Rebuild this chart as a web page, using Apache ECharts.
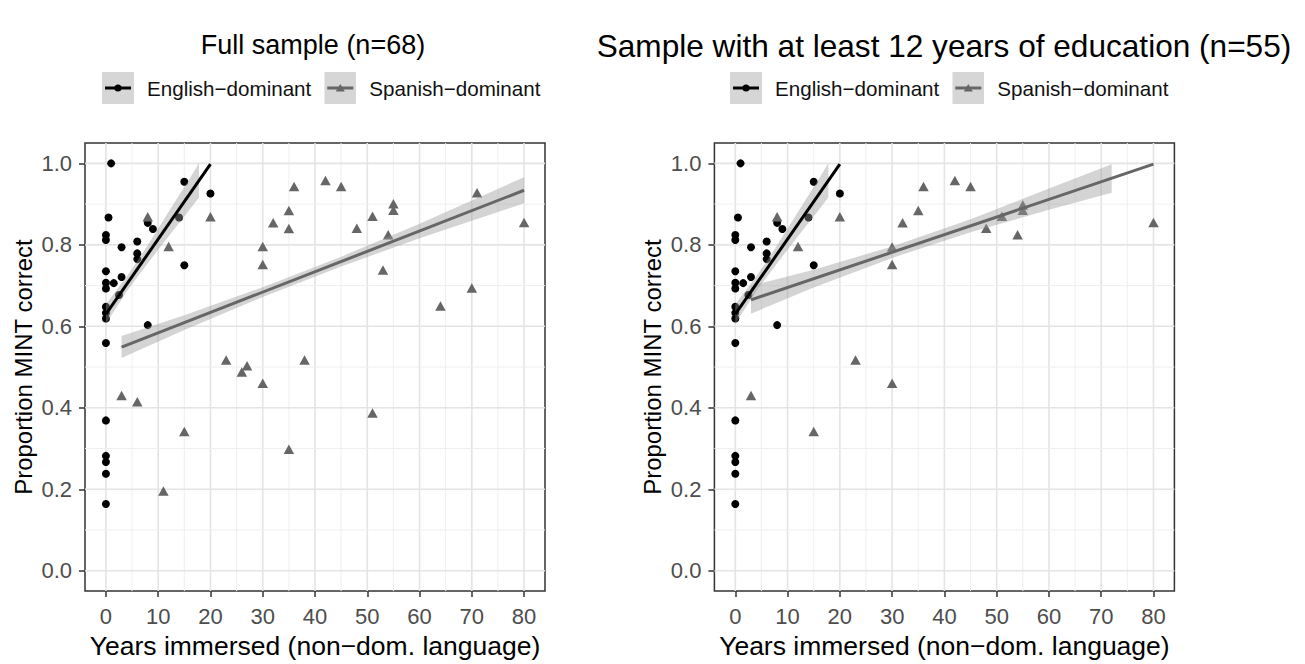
<!DOCTYPE html>
<html>
<head>
<meta charset="utf-8">
<script src="https://cdn.jsdelivr.net/npm/echarts@6/dist/echarts.min.js"></script>
<style>html,body{margin:0;padding:0;background:#fff}#c{width:1305px;height:664px}</style>
</head>
<body>
<div id="c"></div>
<script>
// ---------- data ----------
var titles = ['Full sample (n=68)', 'Sample with at least 12 years of education (n=55)'];
var groups = ['English\u2212dominant', 'Spanish\u2212dominant'];
var xTitle = 'Years immersed (non\u2212dom. language)';
var yTitle = 'Proportion MINT correct';
var xBreaks = [0, 10, 20, 30, 40, 50, 60, 70, 80];
var xMinor = [5, 15, 25, 35, 45, 55, 65, 75];
var yBreaks = [0, 0.2, 0.4, 0.6, 0.8, 1.0];
var yMinor = [0.1, 0.3, 0.5, 0.7, 0.9];

// English-dominant points (same in both panels)
var engX = [1, 15, 20, 0.5, 14, 8, 9, 0, 0, 3, 6, 6, 6, 15, 0, 0, 0, 1.5, 3, 2.5, 0, 0, 0, 8, 0, 0, 0, 0, 0, 0];
var engY = [1.0, 0.955, 0.926, 0.867, 0.867, 0.854, 0.839, 0.824, 0.812, 0.794, 0.808, 0.779, 0.765, 0.75, 0.735, 0.707, 0.693, 0.706, 0.721, 0.677, 0.648, 0.633, 0.619, 0.603, 0.559, 0.369, 0.282, 0.267, 0.238, 0.164];

// Spanish-dominant points, full sample
var spaX = [8, 20, 12, 36, 35, 32, 35, 30, 30, 23, 27, 26, 30, 38, 3, 6, 15, 35, 11, 42, 45, 55, 55, 51, 48, 54, 71, 80, 53, 70, 64, 51];
var spaY = [0.869, 0.869, 0.796, 0.943, 0.884, 0.854, 0.840, 0.796, 0.752, 0.517, 0.503, 0.488, 0.460, 0.517, 0.430, 0.415, 0.342, 0.298, 0.196, 0.958, 0.943, 0.901, 0.885, 0.870, 0.841, 0.825, 0.928, 0.855, 0.738, 0.694, 0.650, 0.387];

// Spanish-dominant points, >=12 years education
var spa12X = [8, 20, 12, 36, 35, 32, 30, 30, 23, 30, 3, 15, 42, 45, 55, 55, 51, 48, 54, 80];
var spa12Y = [0.869, 0.869, 0.796, 0.943, 0.884, 0.854, 0.795, 0.752, 0.517, 0.460, 0.430, 0.342, 0.958, 0.943, 0.898, 0.885, 0.870, 0.841, 0.825, 0.855];

// fitted lines
var engFitX = [0, 20];
var engFitY = [0.63, 0.998];
var spaFitX = [3, 80];
var spaFitY = [0.549, 0.934];
var spa12FitX = [3, 80];
var spa12FitY = [0.665, 0.998];

// confidence bands
var engBandX = [0, 4, 8, 12, 16, 17.8];
var engBandLo = [0.606, 0.686, 0.755, 0.821, 0.886, 0.916];
var engBandHi = [0.654, 0.722, 0.799, 0.881, 0.962, 1.0];
var spaBandX = [3, 15, 30, 45, 60, 80];
var spaBandLo = [0.522, 0.591, 0.672, 0.747, 0.816, 0.902];
var spaBandHi = [0.576, 0.627, 0.696, 0.771, 0.852, 0.966];
var spa12BandX = [3, 15, 30, 45, 60, 72];
var spa12BandLo = [0.631, 0.695, 0.768, 0.831, 0.886, 0.928];
var spa12BandHi = [0.699, 0.739, 0.796, 0.863, 0.938, 0.998];

// ---------- styling ----------
var FONT = '"Liberation Sans", Arial, Helvetica, sans-serif';
var ENG_COL = '#000000';
var SPA_COL = '#666666';
var BAND_COL = 'rgba(153,153,153,0.42)';

function pairs(xs, ys) { return xs.map(function (x, i) { return [x, ys[i]]; }); }

function keyIcon(col, tri) {
  var s = "<svg xmlns='http://www.w3.org/2000/svg' width='32' height='32'>" +
    "<rect width='32' height='32' fill='#d6d6d6'/>" +
    "<line x1='3' y1='16' x2='29' y2='16' stroke='" + col + "' stroke-width='3'/>" +
    (tri ? "<polygon points='16,12 20.5,19.5 11.5,19.5' fill='" + col + "'/>"
         : "<circle cx='16' cy='16' r='3.6' fill='" + col + "'/>") + "</svg>";
  return 'image://data:image/svg+xml;charset=utf-8,' + encodeURIComponent(s);
}

var grids = [
  { left: 85, top: 143, width: 460, height: 459.5 },
  { left: 714.4, top: 143, width: 460, height: 459.5 }
];

function gridData() {
  var d = [];
  xBreaks.forEach(function (v) { d.push([v, 0.5, 0, 1]); });
  xMinor.forEach(function (v) { d.push([v, 0.5, 0, 0]); });
  yBreaks.forEach(function (v) { d.push([40, v, 1, 1]); });
  yMinor.forEach(function (v) { d.push([40, v, 1, 0]); });
  return d;
}

function gridSeries(i) {
  return {
    type: 'custom', xAxisIndex: i, yAxisIndex: i, z: 1, silent: true,
    data: gridData(),
    renderItem: function (params, api) {
      var cs = params.coordSys;
      var horiz = api.value(2) === 1;
      var major = api.value(3) === 1;
      var p = api.coord([api.value(0), api.value(1)]);
      var shape = horiz ? { x1: cs.x, y1: p[1], x2: cs.x + cs.width, y2: p[1] }
                        : { x1: p[0], y1: cs.y, x2: p[0], y2: cs.y + cs.height };
      return { type: 'line', shape: shape,
        style: { stroke: major ? '#e4e4e4' : '#efefef', lineWidth: major ? 1.6 : 1 } };
    }
  };
}

function bandSeries(i, xs, lo, hi) {
  return {
    type: 'custom', xAxisIndex: i, yAxisIndex: i, z: 3, silent: true,
    data: xs.map(function (x, k) { return [x, lo[k], hi[k]]; }),
    renderItem: function (params, api) {
      if (params.dataIndex !== 0) return null;
      var pts = [];
      for (var k = 0; k < xs.length; k++) pts.push(api.coord([xs[k], lo[k]]));
      for (var k2 = xs.length - 1; k2 >= 0; k2--) pts.push(api.coord([xs[k2], hi[k2]]));
      return { type: 'polygon', shape: { points: pts }, style: { fill: BAND_COL } };
    }
  };
}

function lineSeries(i, name, xs, ys, col) {
  return {
    type: 'line', name: name, xAxisIndex: i, yAxisIndex: i, z: 4,
    data: pairs(xs, ys), showSymbol: false, symbol: 'none', silent: true,
    lineStyle: { color: col, width: 3 }, itemStyle: { color: col }
  };
}

function scatterSeries(i, name, xs, ys, col, tri) {
  return {
    type: 'scatter', name: name, xAxisIndex: i, yAxisIndex: i, z: 2,
    data: pairs(xs, ys),
    symbol: tri ? 'triangle' : 'circle',
    symbolSize: tri ? [10.5, 9.5] : 8,
    itemStyle: { color: col, opacity: 1 }
  };
}

var xAxes = [], yAxes = [];
[0, 1].forEach(function (i) {
  xAxes.push({
    type: 'value', gridIndex: i, min: -4, max: 84,
    axisLine: { show: false, onZero: false },
    splitLine: { show: false },
    axisTick: { show: true, customValues: xBreaks, length: 6, lineStyle: { color: '#333', width: 1.5 } },
    axisLabel: { customValues: xBreaks, fontSize: 22, color: '#4d4d4d', margin: 14, fontFamily: FONT },
    name: xTitle, nameLocation: 'middle', nameGap: 38,
    nameTextStyle: { fontSize: 26.5, color: '#000', fontFamily: FONT }
  });
  yAxes.push({
    type: 'value', gridIndex: i, min: -0.05, max: 1.05,
    axisLine: { show: false, onZero: false },
    splitLine: { show: false },
    axisTick: { show: true, customValues: yBreaks, length: 6, lineStyle: { color: '#333', width: 1.5 } },
    axisLabel: { customValues: yBreaks, fontSize: 22, color: '#4d4d4d', margin: 13, fontFamily: FONT,
      formatter: function (v) { return v.toFixed(1); } },
    name: yTitle, nameLocation: 'middle', nameGap: 50, nameRotate: 90,
    nameTextStyle: { fontSize: 24, color: '#000', fontFamily: FONT }
  });
});

function legendFor(left) {
  return {
    left: left, top: 72, padding: 0, itemGap: 13, itemWidth: 32, itemHeight: 32,
    textStyle: { fontSize: 20.6, color: '#111', fontFamily: FONT, padding: [0, 0, 0, 8] },
    selectedMode: false,
    data: [
      { name: groups[0], icon: keyIcon(ENG_COL, false) },
      { name: groups[1], icon: keyIcon(SPA_COL, true) }
    ]
  };
}

var option = {
  backgroundColor: '#fff',
  animation: false,
  textStyle: { fontFamily: FONT },
  title: [
    { text: titles[0], left: 313, top: 31, padding: 0, textAlign: 'center',
      textStyle: { fontSize: 27, fontWeight: 'normal', color: '#000', fontFamily: FONT } },
    { text: titles[1], left: 944, top: 30, padding: 0, textAlign: 'center',
      textStyle: { fontSize: 31.6, fontWeight: 'normal', color: '#000', fontFamily: FONT } }
  ],
  legend: [legendFor(102), legendFor(730)],
  grid: grids.map(function (g) {
    return { left: g.left, top: g.top, width: g.width, height: g.height, show: true,
      backgroundColor: '#fff', borderColor: '#333', borderWidth: 1.5, containLabel: false };
  }),
  xAxis: xAxes,
  yAxis: yAxes,
  series: [
    gridSeries(0),
    scatterSeries(0, groups[0], engX, engY, ENG_COL, false),
    scatterSeries(0, groups[1], spaX, spaY, SPA_COL, true),
    bandSeries(0, engBandX, engBandLo, engBandHi),
    bandSeries(0, spaBandX, spaBandLo, spaBandHi),
    lineSeries(0, groups[0], engFitX, engFitY, ENG_COL),
    lineSeries(0, groups[1], spaFitX, spaFitY, SPA_COL),

    gridSeries(1),
    scatterSeries(1, groups[0], engX, engY, ENG_COL, false),
    scatterSeries(1, groups[1], spa12X, spa12Y, SPA_COL, true),
    bandSeries(1, engBandX, engBandLo, engBandHi),
    bandSeries(1, spa12BandX, spa12BandLo, spa12BandHi),
    lineSeries(1, groups[0], engFitX, engFitY, ENG_COL),
    lineSeries(1, groups[1], spa12FitX, spa12FitY, SPA_COL)
  ]
};

var chart = echarts.init(document.getElementById('c'), null, { renderer: 'svg', width: 1305, height: 664 });
chart.setOption(option);
</script>
</body>
</html>
